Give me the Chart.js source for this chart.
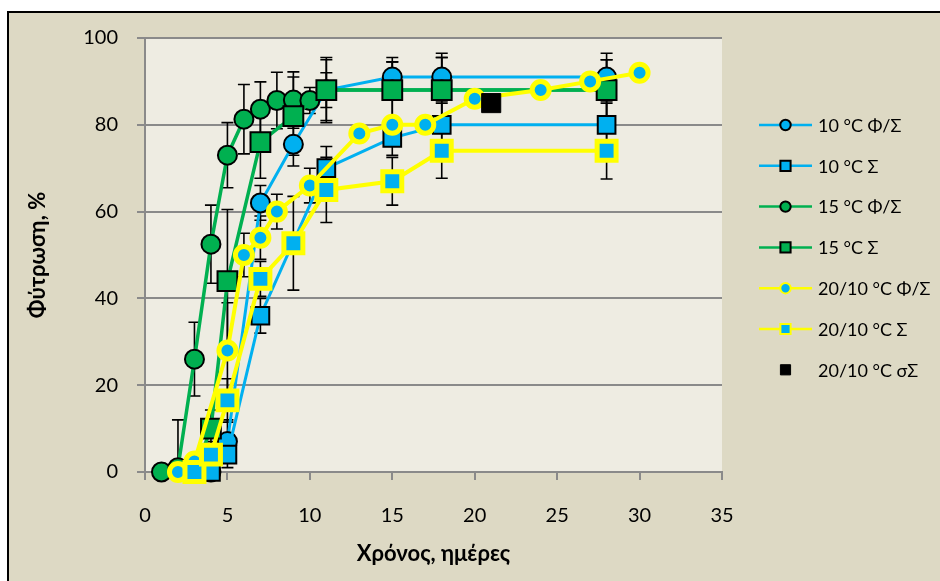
<!DOCTYPE html>
<html>
<head>
<meta charset="utf-8">
<script src="https://cdn.jsdelivr.net/npm/chart.js@4/dist/chart.umd.min.js"></script>
<style>
  html, body { margin: 0; padding: 0; background: #fff; }
  #wrap { position: relative; width: 940px; height: 581px; }
</style>
</head>
<body>
<div id="wrap"><canvas id="germChart" width="940" height="581"></canvas></div>
<script>
// Germination (%) against time (days)
const days10Phi = [4, 5, 7, 9, 11, 15, 18, 28];
const vals10Phi = [0, 7, 62, 75.5, 88, 91, 91, 91];
const err10Phi  = [0, 5, 4, 5, 4, 4.5, 5.5, 5.5];

const days10S = [4, 5, 7, 11, 15, 18, 28];
const vals10S = [0, 4, 36, 70, 77, 80, 80];
const err10S  = [0, 3, 4, 5, 4, 5, 5];

const days15Phi = [1, 2, 3, 4, 5, 6, 7, 8, 9, 10, 11, 15, 18, 28];
const vals15Phi = [0, 1, 26, 52.5, 73, 81.3, 83.6, 85.6, 85.7, 85.6, 88, 88, 88, 88];
const err15Phi  = [0, 11, 8.5, 9, 7.5, 8, 6.3, 6.5, 6.5, 3, 7, 6.5, 7.5, 7];

const days15S = [3, 4, 5, 7, 9, 11, 15, 18, 28];
const vals15S = [0, 10, 44, 76, 82, 88, 88, 88, 88];
const err15S  = [0, 4.3, 16.5, 8.3, 9, 7.5, 6.5, 7.5, 7];

const days20Phi = [2, 3, 5, 6, 7, 8, 10, 13, 15, 17, 20, 24, 27, 30];
const vals20Phi = [0, 2.4, 28, 50, 54, 60, 66, 78, 80, 80, 86, 88, 90, 92];
const err20Phi  = [0, 0, 11, 5, 5, 4, 4, 0, 0, 0, 0, 0, 0, 0];

const days20S = [3, 4, 5, 7, 9, 11, 15, 18, 28];
const vals20S = [0, 4, 16.5, 44.5, 52.7, 65, 67, 74, 74];
const err20S  = [0, 3, 5, 4, 10.8, 7.5, 5.5, 6.3, 6.5];

const days20sS = [21];
const vals20sS = [85];

const xTicksMax = 35;
const yTicksMax = 100;

const BLUE = '#00B0F0';
const GREEN = '#00B050';
const YELLOW = '#FFFF00';
const FONT = 'Lato, "Noto Sans", sans-serif';

function pts(days, vals) {
  return days.map((d, i) => ({ x: d, y: vals[i] }));
}

const datasets = [
  {
    label: '10 °C Φ/Σ', data: pts(days10Phi, vals10Phi), errors: err10Phi,
    borderColor: BLUE, borderWidth: 3, pointStyle: 'circle', pointRadius: 9.5,
    pointBackgroundColor: BLUE, pointBorderColor: '#000', pointBorderWidth: 2
  },
  {
    label: '10 °C Σ', data: pts(days10S, vals10S), errors: err10S,
    borderColor: BLUE, borderWidth: 3, pointStyle: 'rect', pointRadius: 12.5,
    pointBackgroundColor: BLUE, pointBorderColor: '#000', pointBorderWidth: 2
  },
  {
    label: '15 °C Φ/Σ', data: pts(days15Phi, vals15Phi), errors: err15Phi,
    borderColor: GREEN, borderWidth: 3.5, pointStyle: 'circle', pointRadius: 9.5,
    pointBackgroundColor: GREEN, pointBorderColor: '#000', pointBorderWidth: 2
  },
  {
    label: '15 °C Σ', data: pts(days15S, vals15S), errors: err15S,
    borderColor: GREEN, borderWidth: 3.5, pointStyle: 'rect', pointRadius: 14,
    pointBackgroundColor: GREEN, pointBorderColor: '#000', pointBorderWidth: 2
  },
  {
    label: '20/10 °C Φ/Σ', data: pts(days20Phi, vals20Phi), errors: err20Phi,
    borderColor: YELLOW, borderWidth: 4, pointStyle: 'circle', pointRadius: 8.5,
    pointBackgroundColor: BLUE, pointBorderColor: YELLOW, pointBorderWidth: 5
  },
  {
    label: '20/10 °C Σ', data: pts(days20S, vals20S), errors: err20S,
    borderColor: YELLOW, borderWidth: 4, pointStyle: 'rect', pointRadius: 13.4,
    pointBackgroundColor: BLUE, pointBorderColor: YELLOW, pointBorderWidth: 5
  },
  {
    label: '20/10 °C σΣ', data: pts(days20sS, vals20sS), showLine: false,
    borderColor: '#000', borderWidth: 0, pointStyle: 'rect', pointRadius: 13.5,
    pointBackgroundColor: '#000', pointBorderColor: '#000', pointBorderWidth: 1
  }
];

// Excel draws later series on top -> lower order = drawn last in Chart.js
datasets.forEach((ds, i) => {
  ds.order = datasets.length - i;
  ds.tension = 0;
  ds.clip = false;
  ds.fill = false;
});

// page / plot area backgrounds and the frame
const backgroundPlugin = {
  id: 'backgrounds',
  beforeDraw(chart) {
    const { ctx, chartArea: a } = chart;
    ctx.save();
    ctx.fillStyle = '#fff';
    ctx.fillRect(0, 0, chart.width, chart.height);
    ctx.fillStyle = '#DDD9C4';
    ctx.fillRect(9, 13, chart.width - 9, chart.height - 13);
    ctx.strokeStyle = '#000';
    ctx.lineWidth = 2;
    ctx.beginPath();
    ctx.moveTo(8, chart.height);
    ctx.lineTo(8, 12);
    ctx.lineTo(chart.width, 12);
    ctx.stroke();
    ctx.fillStyle = '#EEECE2';
    ctx.fillRect(a.left, a.top, a.right - a.left, a.bottom - a.top);
    ctx.restore();
  }
};

// vertical error bars, under the markers
const errorBarPlugin = {
  id: 'errorBars',
  beforeDatasetsDraw(chart) {
    const { ctx, scales: { x, y }, chartArea: a } = chart;
    ctx.save();
    ctx.beginPath();
    ctx.rect(a.left, a.top - 20, a.right - a.left, a.bottom - a.top + 20);
    ctx.clip();
    ctx.strokeStyle = '#000';
    ctx.lineWidth = 1.6;
    chart.data.datasets.forEach(ds => {
      if (!ds.errors) return;
      ds.data.forEach((p, j) => {
        const e = ds.errors[j];
        if (!e) return;
        const px = x.getPixelForValue(p.x);
        const top = y.getPixelForValue(p.y + e);
        const bot = y.getPixelForValue(p.y - e);
        ctx.beginPath();
        ctx.moveTo(px, top); ctx.lineTo(px, bot);
        ctx.moveTo(px - 6, top); ctx.lineTo(px + 6, top);
        ctx.moveTo(px - 6, bot); ctx.lineTo(px + 6, bot);
        ctx.stroke();
      });
    });
    ctx.restore();
  }
};

// legend on the right: short line with a small marker, then the label
const legendPlugin = {
  id: 'sideLegend',
  afterDraw(chart) {
    const { ctx } = chart;
    const x0 = 759, x1 = 812, xm = 785.5, xt = 818;
    ctx.save();
    ctx.font = '18px ' + FONT;
    ctx.textBaseline = 'middle';
    ctx.textAlign = 'left';
    chart.data.datasets.forEach((ds, i) => {
      const yy = 125 + i * 40.8;
      if (ds.showLine !== false) {
        ctx.strokeStyle = ds.borderColor;
        ctx.lineWidth = 2.5;
        ctx.beginPath();
        ctx.moveTo(x0, yy); ctx.lineTo(x1, yy);
        ctx.stroke();
      }
      ctx.fillStyle = ds.pointBackgroundColor;
      ctx.strokeStyle = ds.pointBorderColor;
      ctx.lineWidth = Math.min(ds.pointBorderWidth, 2);
      Chart.helpers.drawPoint(ctx, {
        pointStyle: ds.pointStyle,
        radius: ds.pointStyle === 'rect' ? 7.2 : 5.2,
        borderWidth: ctx.lineWidth,
        rotation: 0
      }, xm, yy);
      ctx.fillStyle = '#000';
      ctx.fillText(ds.label, xt, yy + 1);
    });
    ctx.restore();
  }
};

new Chart(document.getElementById('germChart'), {
  type: 'line',
  data: { datasets },
  options: {
    responsive: false,
    animation: false,
    events: [],
    layout: { padding: { left: 0, top: 38, right: 218, bottom: 0 } },
    plugins: {
      legend: { display: false },
      tooltip: { enabled: false }
    },
    scales: {
      x: {
        type: 'linear',
        min: 0,
        max: xTicksMax,
        ticks: { stepSize: 5, color: '#000', font: { family: FONT, size: 20 }, padding: 24 },
        grid: { drawOnChartArea: false, drawTicks: true, tickLength: 8, color: '#8a8a8a', lineWidth: 2 },
        border: { color: '#8a8a8a', width: 2 },
        title: {
          display: true, text: 'Χρόνος, ημέρες', color: '#000',
          font: { family: FONT, size: 22, weight: 'bold' },
          padding: { top: 0, bottom: 14 }
        },
        afterFit(s) { s.height = 109; }
      },
      y: {
        min: 0,
        max: yTicksMax,
        ticks: { stepSize: 20, color: '#000', font: { family: FONT, size: 20 }, padding: 19 },
        grid: { color: '#8a8a8a', lineWidth: 2, tickLength: 8 },
        border: { color: '#8a8a8a', width: 2 },
        title: {
          display: true, text: 'Φύτρωση, %', color: '#000',
          font: { family: FONT, size: 22, weight: 'bold' },
          padding: { top: 25, bottom: 0 }
        },
        afterFit(s) { s.width = 145; }
      }
    }
  },
  plugins: [backgroundPlugin, errorBarPlugin, legendPlugin]
});
</script>
</body>
</html>
